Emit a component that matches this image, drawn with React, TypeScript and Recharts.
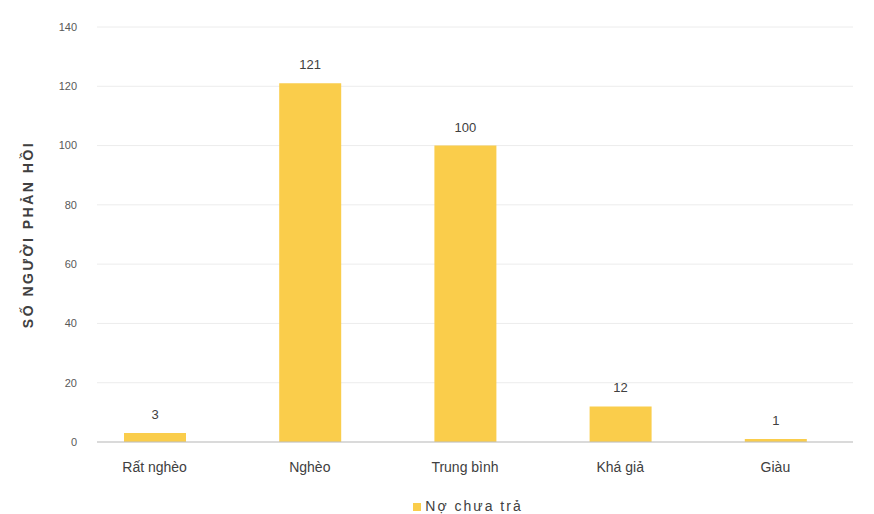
import React from "react";
import { BarChart, Bar, XAxis, YAxis, CartesianGrid, Legend, LabelList } from "recharts";

const categories = ["Rất nghèo", "Nghèo", "Trung bình", "Khá giả", "Giàu"];
const debtValues = [3, 121, 100, 12, 1];
const yTicks = [0, 20, 40, 60, 80, 100, 120, 140];
const seriesName = "Nợ chưa trả";
const yLabel = "SỐ NGƯỜI PHẢN HỒI";

const data = categories.map((c, i) => ({ name: c, value: debtValues[i] }));

const YLabel = (props: any) => {
  const vb = props.viewBox || {};
  const cx = 20;
  const cy = vb.y + vb.height / 2;
  return (
    <text
      x={cx}
      y={cy}
      transform={`rotate(-90 ${cx} ${cy})`}
      textAnchor="middle"
      dominantBaseline="central"
      fontSize={14}
      letterSpacing={2.5}
      fontWeight="bold"
      fill="#404040"
      fontFamily="Liberation Sans, Arial, sans-serif"
    >
      {yLabel}
    </text>
  );
};

export default function App() {
  return (
    <div style={{ background: "#fff", fontFamily: "Liberation Sans, Arial, sans-serif" }}>
      <BarChart
        width={858}
        height={506}
        data={data}
        margin={{ top: 19, right: 13, bottom: 0, left: 0 }}
        barCategoryGap={0}
      >
        <CartesianGrid vertical={false} stroke="#ececec" />
        <XAxis
          dataKey="name"
          padding={{ left: -20, right: 0 }}
          tickLine={false}
          axisLine={{ stroke: "#bfbfbf" }}
          tick={{ fill: "#404040", fontSize: 14 }}
          tickMargin={14}
          height={56}
        />
        <YAxis
          width={89}
          domain={[0, 140]}
          ticks={yTicks}
          tickLine={false}
          axisLine={false}
          tick={{ fill: "#595959", fontSize: 11 }}
          tickMargin={14}
          label={<YLabel />}
        />
        <Legend
          verticalAlign="bottom"
          iconType="square"
          iconSize={8}
          height={16}
          wrapperStyle={{ fontSize: 14, color: "#404040", left: 80, width: 770, letterSpacing: 2 }}
          formatter={(v: string) => <span style={{ color: "#404040" }}>{v}</span>}
        />
        <Bar dataKey="value" name={seriesName} fill="#FACD4B" barSize={62} isAnimationActive={false}>
          <LabelList dataKey="value" position="top" offset={14} fill="#404040" fontSize={13} />
        </Bar>
      </BarChart>
    </div>
  );
}
